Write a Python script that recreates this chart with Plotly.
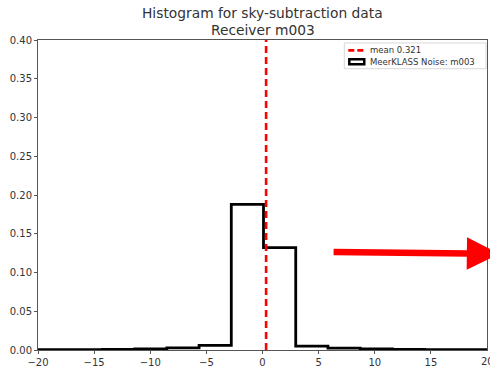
import plotly.graph_objects as go

# ---- data ----
bin_edges = [-20.0, -17.13, -14.26, -11.39, -8.52, -5.65, -2.78, 0.09, 2.96,
             5.83, 8.70, 11.57, 14.44, 17.31, 20.18]
densities = [0.0003, 0.0005, 0.0008, 0.0015, 0.0028, 0.006, 0.188, 0.132,
             0.005, 0.0025, 0.0013, 0.0008, 0.0005, 0.0003]
mean_value = 0.321
x_ticks = [-20, -15, -10, -5, 0, 5, 10, 15, 20]
y_ticks = [0.00, 0.05, 0.10, 0.15, 0.20, 0.25, 0.30, 0.35, 0.40]
hist_label = "MeerKLASS Noise: m003"
mean_label = "mean %.3f" % mean_value
title_lines = ["Histogram for sky-subtraction data", "Receiver m003"]
# arrow overlay (data coordinates): tail -> head
arrow_tail = (6.2, 0.1265)
arrow_head = (21.1, 0.124)

# build closed step path (matplotlib histtype='step')
sx, sy = [bin_edges[0]], [0]
for i, d in enumerate(densities):
    sx += [bin_edges[i], bin_edges[i + 1]]
    sy += [d, d]
sx.append(bin_edges[-1])
sy.append(0)

fig = go.Figure()
fig.add_trace(go.Scatter(x=sx, y=sy, mode="lines", line=dict(color="black", width=2.8),
                         showlegend=False, hoverinfo="skip"))
fig.add_trace(go.Scatter(x=[mean_value, mean_value], y=[0, 0.4], mode="lines",
                         showlegend=False, hoverinfo="skip",
                         line=dict(color="red", width=2.6, dash="7px,4px")))

fig.add_annotation(x=arrow_head[0], y=arrow_head[1], ax=arrow_tail[0], ay=arrow_tail[1],
                   xref="x", yref="y", axref="x", ayref="y", text="",
                   showarrow=True, arrowhead=2, arrowsize=1.0, arrowwidth=6.5,
                   arrowcolor="red")

# ---- custom legend (paper coords) ----
def px_x(p):
    return (p - 38) / 450.0

def px_y(p):
    return (353 - p) / 313.0

shapes = [
    dict(type="rect", xref="paper", yref="paper", x0=px_x(345), x1=px_x(487),
         y0=px_y(69), y1=px_y(43), line=dict(color="#d8d8d8", width=1),
         fillcolor="rgba(255,255,255,0.85)", layer="above"),
    dict(type="line", xref="paper", yref="paper", x0=px_x(349), x1=px_x(366),
         y0=px_y(50.5), y1=px_y(50.5), line=dict(color="red", width=2.6, dash="6px,3px"),
         layer="above"),
    dict(type="rect", xref="paper", yref="paper", x0=px_x(350), x1=px_x(365),
         y0=px_y(64.5), y1=px_y(59.5), line=dict(color="black", width=2.5),
         fillcolor="white", layer="above"),
]
for txt, yy in [(mean_label, 50.5), (hist_label, 62)]:
    fig.add_annotation(x=px_x(369), y=px_y(yy), xref="paper", yref="paper",
                       text=txt, showarrow=False, xanchor="left", yanchor="middle",
                       font=dict(size=8.5, color="#333333"))

# title as two lines (matplotlib-like tight line spacing)
for txt, yy in zip(title_lines, [13, 30]):
    fig.add_annotation(x=px_x(263.5), y=px_y(yy), xref="paper", yref="paper",
                       text=txt, showarrow=False, xanchor="center", yanchor="middle",
                       font=dict(size=13.8, color="#333333"))

# right-most x tick label (partly beyond the page edge, as in the reference)
fig.add_annotation(x=20, y=0, xref="x", yref="paper", text="20", showarrow=False,
                   xanchor="center", yanchor="top", yshift=-4,
                   font=dict(size=10, color="#333333"))

fig.update_layout(
    width=490, height=370,
    margin=dict(l=38, r=2, t=40, b=17),
    paper_bgcolor="white", plot_bgcolor="white",
    font=dict(family="DejaVu Sans", color="#333333", size=10),
    showlegend=False,
    shapes=shapes,
)
fig.update_xaxes(range=[-20, 20], tickvals=x_ticks[:-1],
                 ticktext=[str(v).replace("-", "\u2212") for v in x_ticks[:-1]],
                 showline=True, linecolor="#555555", linewidth=1, mirror=True,
                 ticks="outside", ticklen=3, tickcolor="#555555", showgrid=False,
                 zeroline=False)
fig.update_yaxes(range=[0, 0.4], tickvals=y_ticks,
                 ticktext=["%.2f" % v for v in y_ticks],
                 showline=True, linecolor="#555555", linewidth=1, mirror=True,
                 ticks="outside", ticklen=3, tickcolor="#555555", showgrid=False,
                 zeroline=False)

fig.write_html("out.html")
